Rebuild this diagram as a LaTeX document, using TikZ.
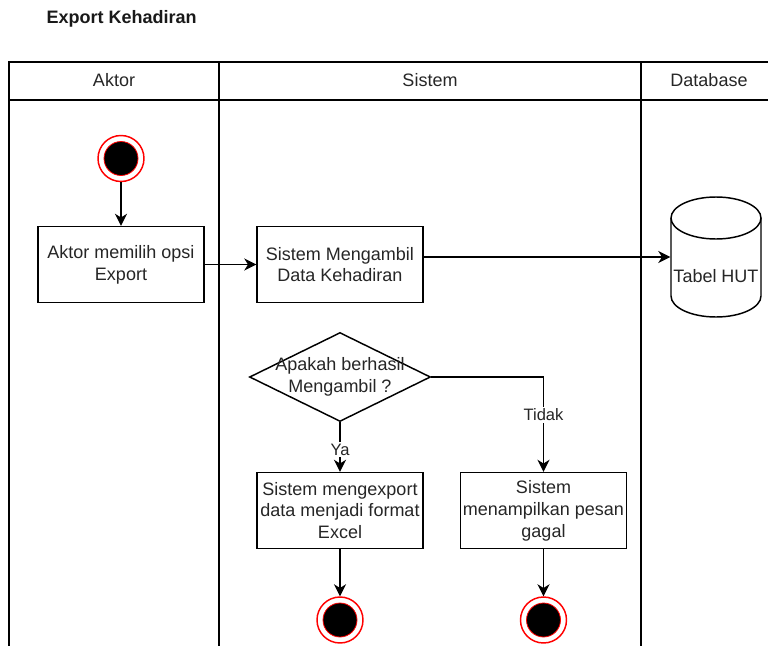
\documentclass[tikz,border=0pt]{standalone}
\usepackage{fontspec}
\setmainfont{Liberation Sans}
\usetikzlibrary{arrows.meta,shapes.geometric,calc}

\begin{document}
\begin{tikzpicture}[x=0.75pt,y=-0.75pt,
  line width=1.1pt,
  lbl/.style={font=\fontsize{13.5}{16.4}\selectfont, text=black!85},
  actbox/.style={draw, fill=white, minimum width=124.5pt, minimum height=57pt,
    align=center, inner xsep=0.5pt, inner ysep=2pt, lbl},
  decbox/.style={draw, diamond, fill=white, minimum width=135.75pt,
    minimum height=66.75pt, inner sep=0pt},
  statenode/.style={circle, draw=red, fill=white, minimum size=34.5pt,
    inner sep=0pt, line width=1.1pt,
    path picture={\filldraw[black, draw=red, line width=0.6pt]
      (path picture bounding box.center) circle (12.75pt);}},
  flow/.style={-{Stealth[length=9pt,width=9pt,inset=2.8pt]}},
  edgelbl/.style={fill=white, inner sep=1.5pt,
    font=\fontsize{12.4}{14.9}\selectfont, text=black!85},
]
\useasboundingbox (0,0) rectangle (768,646);

% title
\node[anchor=west, inner sep=0pt, font=\bfseries\fontsize{13.5}{16.2}\selectfont,
  text=black!90] (title) at (46,19) {Export Kehadiran};

% swimlane frame
\draw (768,62) -- (9,62) -- (9,646);
\draw (9,100) -- (768,100);
\draw (219,62) -- (219,646);
\draw (641,62) -- (641,646);

% lane headers
\node[lbl] (hAktor) at (114,80) {Aktor};
\node[lbl] (hSistem) at (430,80) {Sistem};
\node[lbl] (hDb) at (709,80) {Database};

% actor lane
\node[statenode] (start) at (121,158.5) {};
\node[actbox] (aktor) at (121,264.5) {Aktor memilih opsi\\Export};

% system lane
\node[actbox] (sys1) at (340,264.5) {Sistem Mengambil\\Data Kehadiran};
\node[decbox] (dec) at (340,377) {};
\node[lbl, align=center] (decText) at (340,377) {Apakah berhasil\\Mengambil ?};
\node[actbox] (exp) at (340,510.5) {Sistem mengexport\\data menjadi format\\Excel};
\node[actbox] (fail) at (543.5,510.5) {Sistem\\menampilkan pesan\\gagal};
\node[statenode] (end1) at (340,620) {};
\node[statenode] (end2) at (543.5,620) {};

% database lane: cylinder
\draw[fill=white] (671,218) -- (671,296)
  arc[start angle=180, end angle=360, x radius=33.75pt, y radius=15.75pt]
  -- (761,218);
\draw[fill=white] (716,218) ellipse [x radius=33.75pt, y radius=15.75pt];
\node[minimum width=67.5pt, minimum height=90pt, inner sep=0pt] (db) at (716,257) {};
\node[lbl] (dbText) at (716,276) {Tabel HUT};

% connectors
\draw[flow] (start) -- (aktor);
\draw[flow] (aktor) -- (sys1);
\draw[flow] (sys1.east |- db.west) -- (db.west);
\draw[flow] (dec.south) -- node[edgelbl, pos=0.55] {Ya} (exp.north);
\draw[flow] (dec.east) -| node[edgelbl, pos=0.7] {Tidak} (fail.north);
\draw[flow] (exp) -- (end1);
\draw[flow] (fail) -- (end2);
\end{tikzpicture}
\end{document}
